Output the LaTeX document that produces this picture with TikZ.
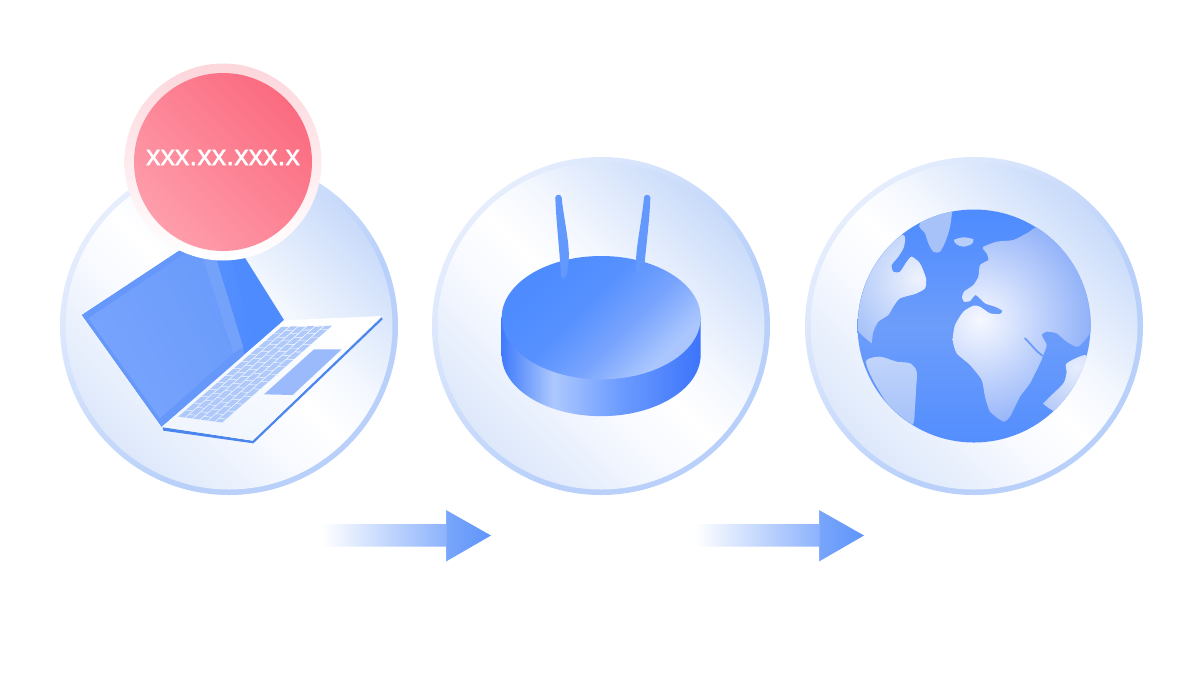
\documentclass[tikz,border=0pt]{standalone}
\usepackage{tikz}
\usepackage{fontspec}
\setmainfont{Liberation Sans}
\newfontfamily\ipfont[FakeBold=1]{Liberation Sans}
\definecolor{ringlo}{HTML}{B8D0FA}
\definecolor{ringhi}{HTML}{E6EEFD}
\definecolor{bluedeep}{HTML}{4D8BFF}
\definecolor{bluemid}{HTML}{6D9DFB}
\definecolor{bluelid}{HTML}{6598FA}
\definecolor{blueedge}{HTML}{4A86EE}
\definecolor{bluekey}{HTML}{B0C9FB}
\definecolor{bluepad}{HTML}{9BBAFB}
\definecolor{bluetop}{HTML}{5791FF}
\definecolor{bluehalf}{HTML}{78A4FE}
\definecolor{bluebright}{HTML}{AAC6FD}
\definecolor{panea}{HTML}{6A9BFB}
\definecolor{paneb}{HTML}{78A4FC}
\definecolor{deck}{HTML}{F0F5FE}
\definecolor{redfill}{HTML}{FB6B80}
\definecolor{redlight}{HTML}{FE9DAB}
\definecolor{halopink}{HTML}{FCD6DB}
\definecolor{halomid}{HTML}{FEEBEE}
\definecolor{discbl}{HTML}{DDE8FB}
\definecolor{discbm}{HTML}{F8FAFF}
\definecolor{disctm}{HTML}{F3F7FE}
\definecolor{disctr}{HTML}{C9DBFA}
\definecolor{sidea}{HTML}{3F7BFB}
\definecolor{sideb}{HTML}{ADC8FD}
\definecolor{sidec}{HTML}{6B9BFF}
\definecolor{sided}{HTML}{3D74FB}
\definecolor{arrowa}{HTML}{8DB3FC}
\definecolor{arrowb}{HTML}{78A5FB}
\definecolor{arrowc}{HTML}{5F95FA}
\definecolor{landa}{HTML}{F6F8FF}
\definecolor{landb}{HTML}{8CAEF8}
\definecolor{landc}{HTML}{EEF2FD}
\definecolor{landd}{HTML}{A6C2F9}
\definecolor{lande}{HTML}{E6EDFD}
\definecolor{landf}{HTML}{B6CBF8}
\pgfdeclareverticalshading{discfill}{100bp}{color(0bp)=(discbl);color(25bp)=(discbl);color(42bp)=(discbm);
	color(50bp)=(white);color(58bp)=(disctm);color(75bp)=(disctr);color(100bp)=(disctr)}
\pgfdeclareverticalshading{discring}{100bp}{color(0bp)=(ringhi);color(25bp)=(ringhi);
	color(60bp)=(ringlo);color(100bp)=(ringlo)}
\pgfdeclareverticalshading{routerside}{100bp}{color(0bp)=(sidea);color(25bp)=(sidea);color(38bp)=(sideb);
	color(55bp)=(sidec);color(75bp)=(sided);color(100bp)=(sided)}
\pgfdeclareverticalshading{routertop}{100bp}{color(0bp)=(bluebright);color(28bp)=(bluebright);color(42bp)=(bluehalf);
	color(56bp)=(bluetop);color(72bp)=(bluedeep);color(100bp)=(bluedeep)}
\pgfdeclareverticalshading{arrowfade}{100bp}{color(0bp)=(white);color(25bp)=(white);
	color(61.5bp)=(arrowa);color(62bp)=(arrowb);color(75bp)=(arrowc);color(100bp)=(arrowc)}
\pgfdeclareradialshading{landglow}{\pgfpoint{0bp}{0bp}}{color(0bp)=(landa);color(25bp)=(landb);color(50bp)=(landb)}
\pgfdeclareradialshading{westglow}{\pgfpoint{0bp}{0bp}}{color(0bp)=(landc);color(25bp)=(landd);color(50bp)=(landd)}
\pgfdeclareradialshading{eastglow}{\pgfpoint{0bp}{0bp}}{color(0bp)=(lande);color(25bp)=(landf);color(50bp)=(landf)}
\tikzset{
	px/.style={x=0.01cm,y=-0.01cm},
	zoomed/.style={shift={(#1)},scale=1/3},
	keycap/.style={fill=bluekey},
	arrowbody/.style={shading=arrowfade,shading angle=-90},
	iptext/.style={text=white,font=\ipfont\fontsize{8.2pt}{10pt}\selectfont,inner sep=0pt}
}
\begin{document}
\begin{tikzpicture}[px,
	declare function={kx(\s,\t)=355+310*\s+\t*(135+20*\s); ky(\s,\t)=560-270*\s+\t*(18-21*\s);}]
	\useasboundingbox (0,0) rectangle (1200,675);
	\fill[white] (0,0) rectangle (1200,675);
	
	%The three discs
	\foreach \cx in {229,601,974}{
		\shade[shading=discring,shading angle=-135] (\cx,326) circle (169);
		\shade[shading=discfill,shading angle=-45] (\cx,326) circle (163.5);
	}
	
	%Laptop
	\begin{scope}[zoomed={60,230}]
		\fill[bluedeep] (66,255) -- (358,62) -- (490,-20) -- (672,270) -- (305,590) -- cycle;
		\fill[bluelid] (66,255) -- (358,62) -- (414,30) -- (520,370) -- (550,350) -- (552,385) -- (305,590) -- cycle;
		\shade[top color=panea,bottom color=paneb,shading angle=-60] (85,265) -- (358,82) -- (414,40) -- (520,370) -- (300,565) -- cycle;
		\fill[bluemid!95!white] (414,40) -- (455,40) -- (550,350) -- (520,370) -- cycle;
		\shade[left color=bluedeep!70!bluemid,right color=bluedeep] (455,40) -- (500,40) -- (580,320) -- (550,350) -- cycle;
		\fill[blueedge] (308,592) -- (578,632) -- (965,262) -- (968,268) -- (580,640) -- (310,602) -- cycle;
		\shade[bottom color=deck,top color=white,shading angle=-30] (672,271) -- (965,258) -- (578,632) -- (306,590) -- cycle;
		\foreach \r in {0,...,5}{
			\pgfmathsetmacro{\off}{mod(\r,2)*0.5}
			\foreach \c in {0,...,13}{
				\pgfmathsetmacro{\sa}{max(0,(\c-\off)/13)}
				\pgfmathsetmacro{\sb}{min(1,(\c-\off+1)/13-0.006)}
				\pgfmathsetmacro{\ta}{\r/6}
				\pgfmathsetmacro{\tb}{(\r+1)/6-0.025}
				\fill[keycap] ({kx(\sa,\ta)},{ky(\sa,\ta)}) -- ({kx(\sb,\ta)},{ky(\sb,\ta)}) -- ({kx(\sb,\tb)},{ky(\sb,\tb)}) -- ({kx(\sa,\tb)},{ky(\sa,\tb)}) -- cycle;
			}
		}
		\fill[bluepad] (762,358) -- (845,358) -- (698,495) -- (612,493) -- cycle;
	\end{scope}
	
	%Badge with the address
	\shade[top color=halopink,bottom color=white,middle color=halomid] (223,162) circle (98.5);
	\shade[top color=redfill,bottom color=redlight,shading angle=-45] (223,162) circle (89);
	\node[iptext] (iplabel) at (223,157.5) {xxx.xx.xxx.x};
	
	%Router
	\begin{scope}[zoomed={480,180}]
		\shade[shading=routerside,shading angle=-90] (65,411) -- (65,524) arc[start angle=180,end angle=0,x radius=298.5,y radius=184.5] -- (662,411) -- cycle;
		\shade[shading=routertop,shading angle=45] (363.5,413) ellipse (298.5 and 185);
		\fill[bluemid!70!bluedeep] (226,52) .. controls (228,42) and (243,42) .. (245,52) .. controls (250,110) and (270,190) .. (266,240) .. controls (264,265) and (262,280) .. (258,288) .. controls (254,298) and (246,298) .. (243,288) .. controls (238,200) and (228,120) .. (226,52) -- cycle;
		\fill[bluemid!70!bluedeep] (492,52) .. controls (494,42) and (509,42) .. (511,52) .. controls (509,120) and (498,200) .. (490,288) .. controls (487,298) and (475,298) .. (472,288) .. controls (468,280) and (467,265) .. (468,240) .. controls (470,190) and (487,110) .. (492,52) -- cycle;
	\end{scope}
	
	%Globe
	\shade[top color=bluedeep,bottom color=bluedeep!80!bluemid,middle color=bluemid] (974,326) circle (116.5);
	\begin{scope}[zoomed={840,190}]
		\clip (403,407.5) circle (349.5);
		%Old world
		\begin{scope}
			\clip plot[smooth cycle,tension=0.35] coordinates {(430,170) (470,155) (520,150) (560,130) (620,100) (760,150) (790,300) (755,420) (715,470) (680,455) (650,430) (620,425) (605,435) (620,465) (610,495) (600,520) (570,580) (540,620) (510,680) (490,695) (450,665) (435,620) (425,570) (390,525) (350,490) (338,450) (345,405) (370,365) (400,347) (420,350) (450,370) (480,372) (487,362) (465,350) (435,340) (407,315) (390,333) (372,335) (366,322) (372,305) (400,285) (415,260) (420,225) (445,210) (440,190) (430,178)};
			\shade[shading=landglow] (420,390) circle (350);
		\end{scope}
		%North america
		\begin{scope}
			\clip plot[smooth cycle,tension=0.4] coordinates {(190,135) (192,170) (175,200) (155,225) (160,245) (180,245) (200,215) (215,200) (240,220) (258,265) (255,295) (225,312) (180,325) (160,350) (145,375) (115,395) (100,425) (95,460) (90,490) (70,480) (20,440) (20,300) (100,160)};
			\shade[shading=westglow] (235,265) circle (240);
		\end{scope}
		\fill[landd] plot[smooth cycle,tension=0.5] coordinates {(240,100) (330,40) (332,100) (318,150) (300,185) (280,185) (265,160) (255,130)};
		\fill[landd!80!white] plot[smooth cycle,tension=0.5] coordinates {(342,150) (370,142) (400,148) (395,162) (370,170) (350,163)};
		\shade[top color=landd!70!white,bottom color=landd] plot[smooth cycle,tension=0.5] coordinates {(80,510) (120,500) (170,515) (210,520) (230,545) (228,600) (225,650) (215,705) (150,650) (110,590) (85,540)};
		\draw[bluemid!90!bluedeep,line width=0.5pt,line cap=round] (555,445) .. controls (575,465) and (590,485) .. (607,497);
		%Australia
		\begin{scope}
			\clip plot[smooth cycle,tension=0.5] coordinates {(680,520) (735,495) (745,520) (720,570) (650,660) (600,655) (630,620) (670,580) (680,545)};
			\shade[shading=eastglow] (710,530) circle (150);
		\end{scope}
	\end{scope}
	
	%Arrows between the discs
	\foreach \ax in {322,695}{
		\shade[arrowbody] (\ax,524) -- (\ax+124,524) -- (\ax+124,510) -- (\ax+169,535.5) -- (\ax+124,561.5) -- (\ax+124,546.5) -- (\ax,546.5) -- cycle;
	}
\end{tikzpicture}
\end{document}
